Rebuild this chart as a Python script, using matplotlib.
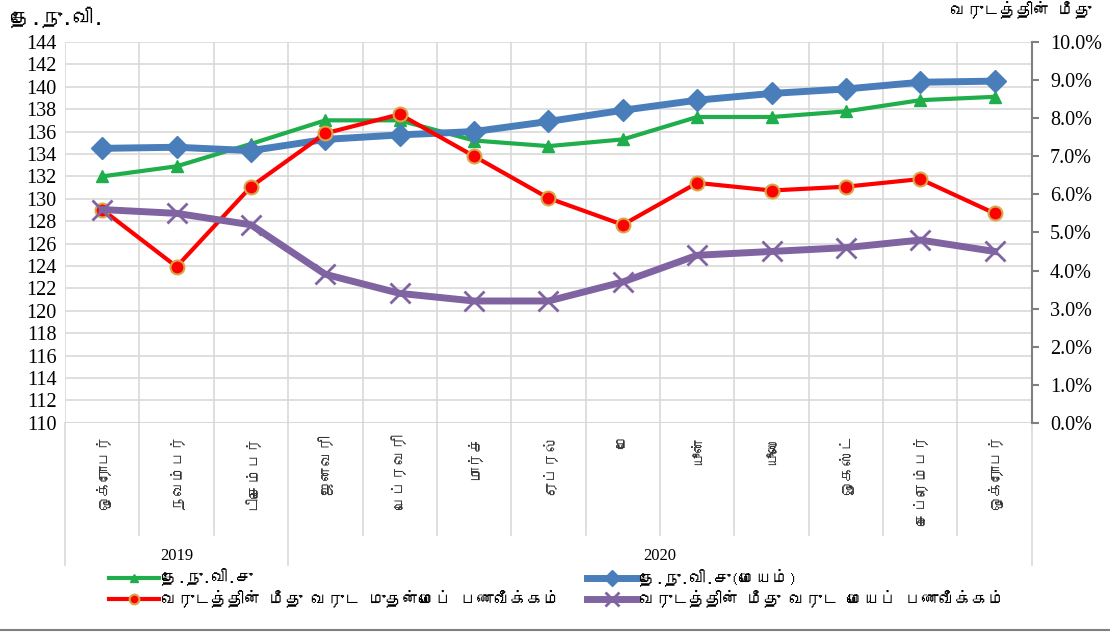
import matplotlib
matplotlib.use("Agg")
import matplotlib.pyplot as plt
from matplotlib import font_manager, ft2font
from matplotlib.ticker import FuncFormatter

# data
months = ["ஒக்ரோபர்", "நவம்பர்", "டிசெம்பர்", "ஜனவரி", "பெப்ரவரி", "மார்ச்",
          "ஏப்ரல்", "மே", "யூன்", "யூலை", "ஓகஸ்ட்", "செப்ரெம்பர்", "ஒக்ரோபர்"]
years = ["2019", "2020"]
year_spans = [(0, 2), (3, 12)]
ccpi = [132.0, 132.9, 134.9, 137.0, 137.0, 135.2, 134.7, 135.3, 137.3, 137.3, 137.8, 138.8, 139.1]
ccpi_core = [134.5, 134.6, 134.3, 135.3, 135.7, 136.0, 136.9, 137.9, 138.8, 139.4, 139.8, 140.4, 140.5]
headline_yoy = [5.6, 4.1, 6.2, 7.6, 8.1, 7.0, 5.9, 5.2, 6.3, 6.1, 6.2, 6.4, 5.5]
core_yoy = [5.6, 5.5, 5.2, 3.9, 3.4, 3.2, 3.2, 3.7, 4.4, 4.5, 4.6, 4.8, 4.5]

labels = ["தே.நு.வி.சு", "தே.நு.வி.சு(மையம்)",
          "வருடத்தின் மீது வருட முதன்மைப் பணவீக்கம்",
          "வருடத்தின் மீது வருட மையப் பணவீக்கம்"]


def find_tamil():
    for f in font_manager.fontManager.ttflist:
        try:
            if 0x0BA4 in ft2font.FT2Font(f.fname).get_charmap():
                return f.name
        except Exception:
            pass
    return None


tamil = find_tamil()
fams = ([tamil] if tamil else []) + ["DejaVu Sans"]
serif = "Liberation Serif"

fig = plt.figure(figsize=(11.1, 6.35), dpi=100)
ax = fig.add_axes([0.0586, 0.334, 0.871, 0.600])
ax2 = ax.twinx()

x = list(range(len(months)))
l1, = ax.plot(x, ccpi, color="#1fae4b", lw=3, marker="^", ms=9, zorder=3)
l2, = ax.plot(x, ccpi_core, color="#4a7ebb", lw=5, marker="D", ms=11, zorder=3)
l3, = ax2.plot(x, headline_yoy, color="#ff0000", lw=3, marker="o", ms=10,
               mfc="#ff0000", mec="#d8a848", mew=1.5, zorder=3)
l4, = ax2.plot(x, core_yoy, color="#8064a2", lw=5, marker="x", ms=14, mew=2, zorder=3)

ax.set_xlim(-0.5, 12.5)
ax.set_ylim(110, 144)
ax.set_yticks(range(110, 145, 2))
ax2.set_ylim(0, 10)
ax2.set_yticks(range(0, 11))
ax2.yaxis.set_major_formatter(FuncFormatter(lambda v, p: f"{v:.1f}%"))

for t in ax.get_yticklabels() + ax2.get_yticklabels():
    t.set_fontfamily(serif)
    t.set_fontsize(14.5)
ax.tick_params(axis="y", length=0, pad=6)
ax2.tick_params(axis="y", length=5, width=1.5, color="#808080", pad=8)

# grid
ax.set_axisbelow(True)
ax.grid(axis="y", color="#d9d9d9", lw=1.2)
for b in range(len(months) + 1):
    ax.axvline(b - 0.5, color="#d9d9d9", lw=1.2, zorder=0)
for s in ["top", "left", "right", "bottom"]:
    ax.spines[s].set_visible(False)
for s in ["top", "left", "bottom"]:
    ax2.spines[s].set_visible(False)
ax2.spines["right"].set_color("#808080")
ax2.spines["right"].set_linewidth(1.5)
ax.axhline(110, color="#d9d9d9", lw=1.5)

# category labels
ax.set_xticks(x)
ax.set_xticklabels(months, rotation=90, fontsize=11, family=fams, color="#333333")
ax.tick_params(axis="x", length=0, pad=8)

tr = ax.get_xaxis_transform()
for b in range(len(months) + 1):
    low = -0.373 if b in (0, 3, 13) else -0.294
    ax.plot([b - 0.5, b - 0.5], [0, low], transform=tr, color="#d9d9d9",
            lw=1.2, clip_on=False)
for yr, (a, b) in zip(years, year_spans):
    ax.text((a + b) / 2, -0.35, yr, transform=tr, ha="center", va="center",
            fontsize=12, family=serif)

# axis titles
fig.text(0.009, 0.972, "தே.நு.வி.", fontsize=15, fontweight="bold",
         family=fams, ha="left", va="center")
fig.text(0.983, 0.985, "வருடத்தின் மீது", fontsize=12, fontweight="bold",
         family=fams, ha="right", va="center")

fig.legend([l1, l3, l2, l4], [labels[0], labels[2], labels[1], labels[3]],
           ncol=2, loc="lower left", bbox_to_anchor=(0.085, 0.02),
           frameon=False, prop={"family": fams, "size": 12},
           handlelength=3, columnspacing=1.6, labelspacing=0.2,
           handletextpad=0.1, markerscale=0.7)

fig.add_artist(plt.Line2D([0, 1], [0.008, 0.008], color="#808080", lw=1.5))

fig.savefig("out.png", dpi=100)
